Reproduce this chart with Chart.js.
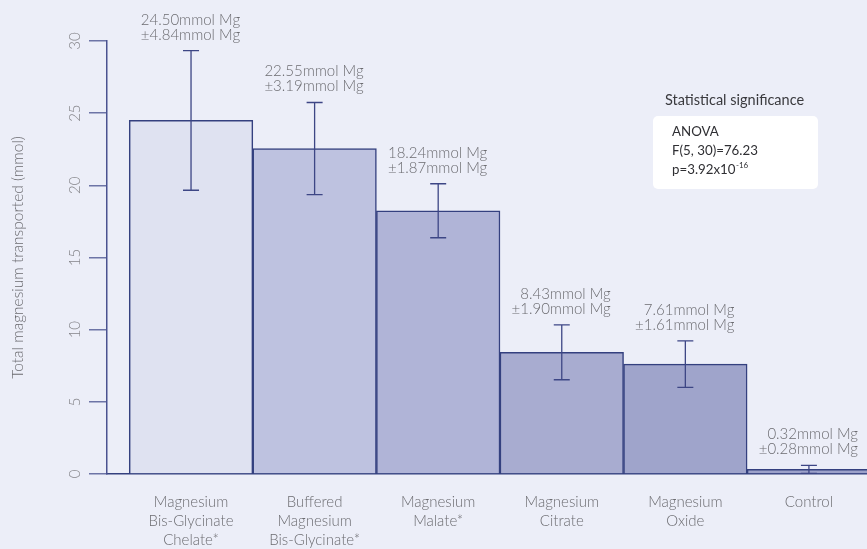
<!DOCTYPE html>
<html>
<head>
<meta charset="utf-8">
<script src="https://cdn.jsdelivr.net/npm/chart.js@4.4.0/dist/chart.umd.min.js"></script>
<style>
  html, body { margin: 0; padding: 0; background: #eceef8; overflow: hidden; }
  #chart { display: block; }
</style>
</head>
<body>
<canvas id="chart" width="867" height="549"></canvas>
<script>
const categories = [
  ["Magnesium", "Bis-Glycinate", "Chelate*"],
  ["Buffered", "Magnesium", "Bis-Glycinate*"],
  ["Magnesium", "Malate*"],
  ["Magnesium", "Citrate"],
  ["Magnesium", "Oxide"],
  ["Control"],
];
const meanValues = [24.50, 22.55, 18.24, 8.43, 7.61, 0.32];
const errorValues = [4.84, 3.19, 1.87, 1.90, 1.61, 0.28];
const yTicks = [0, 5, 10, 15, 20, 25, 30];
const barColors = ["#dfe2f1", "#bec2e0", "#b0b4d7", "#a8acd0", "#9fa4cb", "#9ca1ca"];
const statTitle = "Statistical significance";
const statLines = ["ANOVA", "F(5, 30)=76.23"];

const FONT = "Lato, 'Open Sans', sans-serif";
const navy = "#34407f";
const greyText = "#6c6c71";

const errorBars = {
  id: "errorBars",
  afterDatasetsDraw(chart) {
    const { ctx, scales: { x, y } } = chart;
    ctx.save();
    ctx.strokeStyle = "#3d4685";
    ctx.lineWidth = 1.3;
    meanValues.forEach((m, i) => {
      const px = x.getPixelForValue(i);
      const top = y.getPixelForValue(m + errorValues[i]);
      const bot = y.getPixelForValue(Math.max(m - errorValues[i], 0));
      ctx.beginPath();
      ctx.moveTo(px, top);
      ctx.lineTo(px, bot);
      ctx.moveTo(px - 8, top);
      ctx.lineTo(px + 8, top);
      ctx.moveTo(px - 8, bot);
      ctx.lineTo(px + 8, bot);
      ctx.stroke();

      // value labels above each error bar
      ctx.fillStyle = greyText;
      ctx.font = `300 15px ${FONT}`;
      ctx.textAlign = "right";
      ctx.textBaseline = "alphabetic";
      ctx.fillText(`${m.toFixed(2)}mmol Mg`, px + 49, top - 26);
      ctx.fillText(`\u00b1${errorValues[i].toFixed(2)}mmol Mg`, px + 49, top - 11);
    });
    ctx.restore();
  },
};

const extras = {
  id: "extras",
  afterDraw(chart) {
    const { ctx, scales: { y } } = chart;
    ctx.save();
    // rotated y tick labels
    ctx.fillStyle = "#85858a";
    ctx.font = `300 15px ${FONT}`;
    ctx.textAlign = "center";
    ctx.textBaseline = "middle";
    yTicks.forEach((t) => {
      ctx.save();
      ctx.translate(75, y.getPixelForValue(t));
      ctx.rotate(-Math.PI / 2);
      ctx.fillText(String(t), 0, 0);
      ctx.restore();
    });

    // stats box
    ctx.fillStyle = "#3a3a3e";
    ctx.font = `400 14.5px ${FONT}`;
    ctx.textAlign = "left";
    ctx.textBaseline = "alphabetic";
    ctx.fillText(statTitle, 665, 105);

    ctx.fillStyle = "#ffffff";
    ctx.beginPath();
    ctx.roundRect(653, 116, 165, 73, 5);
    ctx.fill();

    ctx.fillStyle = "#2f2f33";
    ctx.font = `400 13.3px ${FONT}`;
    ctx.fillText(statLines[0], 672, 136);
    ctx.fillText(statLines[1], 672, 155);
    const base = "p=3.92x10";
    ctx.fillText(base, 672, 174);
    const w = ctx.measureText(base).width;
    ctx.font = `400 8px ${FONT}`;
    ctx.fillText("-16", 672 + w + 0.5, 168);
    ctx.restore();
  },
};

new Chart(document.getElementById("chart"), {
  type: "bar",
  data: {
    datasets: [
      {
        data: meanValues.map((v, i) => ({ x: i, y: v })),
        backgroundColor: barColors,
        borderColor: navy,
        borderWidth: 1.5,
        barPercentage: 1,
        categoryPercentage: 1,
      },
    ],
  },
  options: {
    responsive: false,
    animation: false,
    layout: { padding: { top: 41, left: 0, right: 0, bottom: 0 } },
    plugins: { legend: { display: false }, tooltip: { enabled: false } },
    scales: {
      x: {
        type: "linear",
        offset: false,
        min: -0.68,
        max: 5.47,
        afterBuildTicks: (axis) => {
          axis.ticks = categories.map((_, i) => ({ value: i }));
        },
        afterFit: (axis) => {
          axis.height = 75;
        },
        grid: { drawOnChartArea: false, drawTicks: false },
        border: { display: true, color: navy, width: 1.5 },
        ticks: {
          autoSkip: false,
          maxRotation: 0,
          padding: 19,
          color: greyText,
          font: { family: FONT, size: 15, weight: "300", lineHeight: 1.27 },
          callback: (v) => categories[v] || "",
        },
      },
      y: {
        min: 0,
        max: 30,
        afterBuildTicks: (axis) => {
          axis.ticks = yTicks.map((v) => ({ value: v }));
        },
        afterFit: (axis) => {
          axis.width = 107;
        },
        grid: { drawOnChartArea: false, drawTicks: true, tickLength: 18, color: "#6d74a6", lineWidth: 1.5 },
        border: { display: true, color: "#4a5290", width: 1.5 },
        ticks: { display: false },
        title: {
          display: true,
          text: "Total magnesium transported (mmol)",
          color: greyText,
          font: { family: FONT, size: 15.5, weight: "300" },
          padding: { top: 9, bottom: 0 },
        },
      },
    },
  },
  plugins: [errorBars, extras],
});
</script>
</body>
</html>
